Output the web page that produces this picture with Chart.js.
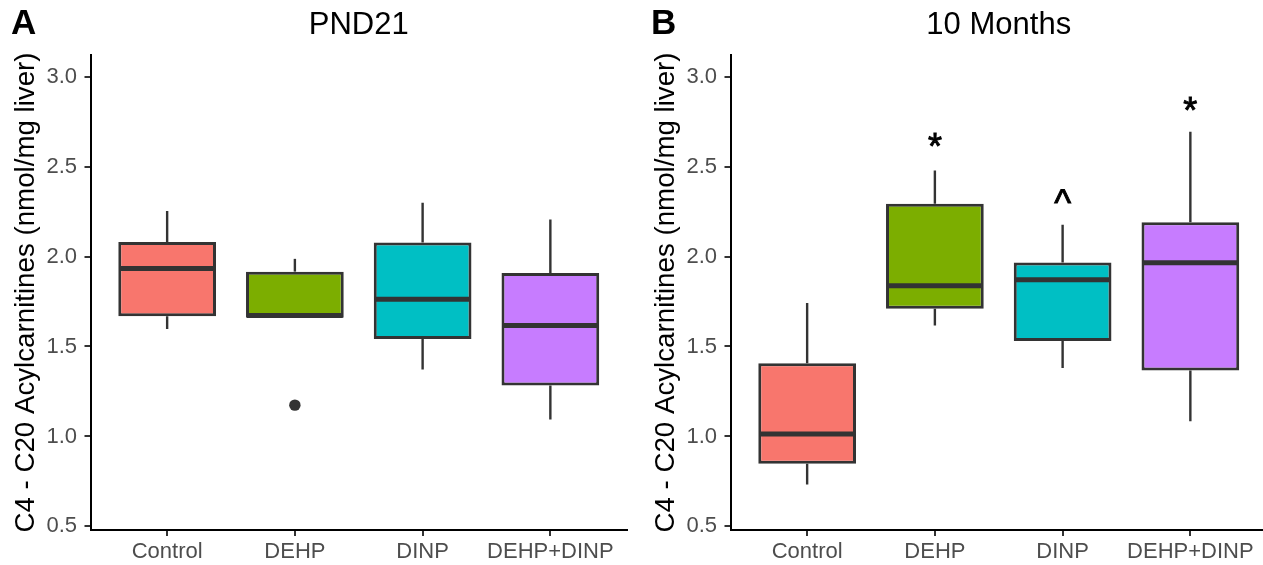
<!DOCTYPE html>
<html>
<head>
<meta charset="utf-8">
<script src="https://cdn.jsdelivr.net/npm/chart.js@4.4.1/dist/chart.umd.min.js"></script>
<style>
  html, body { margin: 0; padding: 0; background: #ffffff; }
  body { width: 1263px; height: 565px; overflow: hidden; position: relative; }
  canvas { position: absolute; top: 0; }
  #panelA { left: 0; }
  #panelB { left: 640px; }
</style>
</head>
<body>
<canvas id="panelA" width="640" height="565"></canvas>
<canvas id="panelB" width="640" height="565"></canvas>
<script>
"use strict";

/* ============================================================
   DATA
============================================================ */
const categories = ['Control', 'DEHP', 'DINP', 'DEHP+DINP'];
const fillColors = ['#F8766D', '#7CAE00', '#00BFC4', '#C77CFF'];
const yTicks = [0.5, 1.0, 1.5, 2.0, 2.5, 3.0];
const yTickLabels = ['0.5', '1.0', '1.5', '2.0', '2.5', '3.0'];
const yAxisTitle = 'C4 - C20 Acylcarnitines (nmol/mg liver)';

// Panel A: PND21
const pndMin    = [1.597, 1.660, 1.372, 1.094];
const pndQ1     = [1.668, 1.660, 1.541, 1.283];
const pndMedian = [1.934, 1.672, 1.762, 1.616];
const pndQ3     = [2.081, 1.916, 2.078, 1.908];
const pndMax    = [2.253, 1.987, 2.299, 2.206];
const pndOutlierGroup = [1];
const pndOutlierValue = [1.174];
const pndMarks  = ['', '', '', ''];
const pndMarkY  = [null, null, null, null];

// Panel B: 10 Months
const monMin    = [0.733, 1.617, 1.380, 1.085];
const monQ1     = [0.848, 1.709, 1.530, 1.367];
const monMedian = [1.013, 1.837, 1.871, 1.965];
const monQ3     = [1.407, 2.293, 1.967, 2.191];
const monMax    = [1.741, 2.478, 2.176, 2.694];
const monOutlierGroup = [];
const monOutlierValue = [];
const monMarks  = ['', '*', '^', '*'];
const monMarkY  = [null, 2.650, 2.338, 2.845];

/* ============================================================
   STYLE
============================================================ */
const FONT = '"Liberation Sans", Arial, sans-serif';
const INK = '#333333';

/* ============================================================
   BOX PLOT EXTRAS (whiskers, medians, marks, titles)
============================================================ */
function makeBoxPlugin(p) {
  return {
    id: 'boxExtras',
    beforeDatasetsDraw(chart) {
      const ctx = chart.ctx;
      const y = chart.scales.y;
      const meta = chart.getDatasetMeta(0);
      ctx.save();
      ctx.strokeStyle = INK;
      ctx.lineWidth = 2.4;
      ctx.lineCap = 'butt';
      meta.data.forEach((bar, i) => {
        ctx.beginPath();
        ctx.moveTo(bar.x, y.getPixelForValue(p.q3[i]));
        ctx.lineTo(bar.x, y.getPixelForValue(p.max[i]));
        ctx.moveTo(bar.x, y.getPixelForValue(p.q1[i]));
        ctx.lineTo(bar.x, y.getPixelForValue(p.min[i]));
        ctx.stroke();
      });
      ctx.restore();
    },
    afterDatasetsDraw(chart) {
      const ctx = chart.ctx;
      const y = chart.scales.y;
      const meta = chart.getDatasetMeta(0);
      ctx.save();
      ctx.strokeStyle = INK;
      ctx.lineWidth = 5;
      meta.data.forEach((bar, i) => {
        const py = y.getPixelForValue(p.median[i]);
        ctx.beginPath();
        ctx.moveTo(bar.x - bar.width / 2 + 1, py);
        ctx.lineTo(bar.x + bar.width / 2 - 1, py);
        ctx.stroke();
      });
      // significance marks
      ctx.fillStyle = '#000000';
      ctx.strokeStyle = '#000000';
      ctx.lineWidth = 0.9;
      ctx.font = '36px ' + FONT;
      ctx.textAlign = 'center';
      ctx.textBaseline = 'alphabetic';
      meta.data.forEach((bar, i) => {
        if (!p.marks[i]) return;
        const m = ctx.measureText(p.marks[i]);
        const py = y.getPixelForValue(p.markY[i]);
        const base = py + (m.actualBoundingBoxAscent - m.actualBoundingBoxDescent) / 2;
        ctx.fillText(p.marks[i], bar.x, base);
        ctx.strokeText(p.marks[i], bar.x, base);
      });
      ctx.restore();
    },
    afterDraw(chart) {
      const ctx = chart.ctx;
      const area = chart.chartArea;
      ctx.save();
      ctx.fillStyle = '#000000';
      ctx.textBaseline = 'alphabetic';
      ctx.font = '31px ' + FONT;
      ctx.textAlign = 'center';
      ctx.fillText(p.title, (area.left + area.right) / 2, 34);
      ctx.font = 'bold 35px ' + FONT;
      ctx.textAlign = 'left';
      ctx.fillText(p.tag, 11, 34);
      ctx.restore();
    }
  };
}

/* ============================================================
   PANEL BUILDER
============================================================ */
function makePanel(canvasId, p) {
  const tickFont = { family: FONT, size: 22 };
  const axisGrid = {
    display: true,
    drawOnChartArea: false,
    drawTicks: true,
    tickLength: 6,
    color: INK,
    lineWidth: 2,
    offset: false
  };
  const axisBorder = { display: true, color: '#000000', width: 2 };

  return new Chart(document.getElementById(canvasId).getContext('2d'), {
    type: 'bar',
    data: {
      datasets: [{
        type: 'bar',
        data: categories.map((c, i) => ({ x: i, y: [p.q1[i], p.q3[i]] })),
        backgroundColor: fillColors,
        borderColor: INK,
        borderWidth: 3,
        borderSkipped: false,
        barPercentage: 0.765,
        categoryPercentage: 1
      }, {
        type: 'scatter',
        data: p.outGroup.map((g, i) => ({ x: g, y: p.outValue[i] })),
        pointRadius: 5.7,
        pointBackgroundColor: INK,
        pointBorderWidth: 0
      }]
    },
    options: {
      responsive: false,
      animation: false,
      events: [],
      layout: { padding: { top: 55, right: 13, bottom: 0, left: 0 } },
      plugins: { legend: { display: false }, tooltip: { enabled: false }, title: { display: false } },
      scales: {
        x: {
          type: 'linear',
          min: -0.6,
          max: 3.6,
          offset: false,
          bounds: 'data',
          afterBuildTicks: s => { s.ticks = categories.map((c, i) => ({ value: i })); },
          afterFit: s => { s.height = 35; },
          ticks: {
            callback: v => categories[v],
            font: tickFont,
            color: '#4D4D4D',
            padding: 3,
            autoSkip: false,
            maxRotation: 0
          },
          grid: axisGrid,
          border: axisBorder
        },
        y: {
          type: 'linear',
          min: 0.48,
          max: 3.12,
          bounds: 'data',
          afterBuildTicks: s => { s.ticks = yTicks.map(v => ({ value: v })); },
          afterFit: s => { s.width = 90.5; },
          ticks: {
            callback: v => yTickLabels[yTicks.indexOf(v)],
            font: tickFont,
            color: '#4D4D4D',
            padding: 7.5,
            autoSkip: false
          },
          grid: axisGrid,
          border: axisBorder,
          title: {
            display: true,
            text: yAxisTitle,
            color: '#000000',
            font: { family: FONT, size: 27.7 },
            padding: { top: 9.6, bottom: 0 }
          }
        }
      }
    },
    plugins: [makeBoxPlugin(p)]
  });
}

/* ============================================================
   INITIALIZATION
============================================================ */
makePanel('panelA', {
  title: 'PND21', tag: 'A',
  min: pndMin, q1: pndQ1, median: pndMedian, q3: pndQ3, max: pndMax,
  outGroup: pndOutlierGroup, outValue: pndOutlierValue,
  marks: pndMarks, markY: pndMarkY
});

makePanel('panelB', {
  title: '10 Months', tag: 'B',
  min: monMin, q1: monQ1, median: monMedian, q3: monQ3, max: monMax,
  outGroup: monOutlierGroup, outValue: monOutlierValue,
  marks: monMarks, markY: monMarkY
});
</script>
</body>
</html>
